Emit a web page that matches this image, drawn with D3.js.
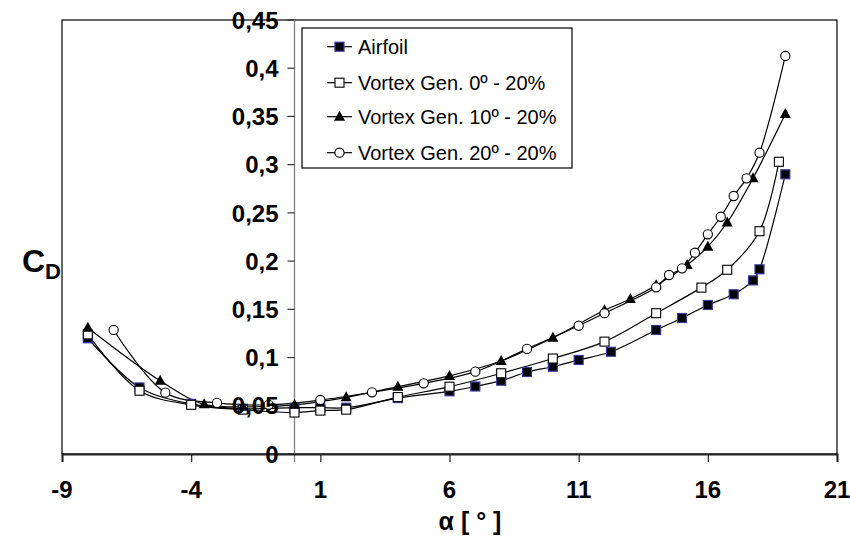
<!DOCTYPE html>
<html><head><meta charset="utf-8">
<script src="https://cdn.jsdelivr.net/npm/d3@7"></script>
<style>body{margin:0;background:#fff;} svg{display:block;}</style>
</head><body>
<svg id="chart" width="850" height="541"></svg>
<script>
// ---- data ----
const seriesNames = ["Airfoil", "Vortex Gen. 0º - 20%", "Vortex Gen. 10º - 20%", "Vortex Gen. 20º - 20%"];
const airfoilAlpha = [-8,-6,-4,-2,0,1,2,4,6,7,8,9,10,11,12.25,14,15,16,17,17.75,18,19];
const airfoilCd    = [0.120,0.069,0.052,0.047,0.048,0.048,0.048,0.058,0.065,0.070,0.076,0.085,0.0905,0.0975,0.106,0.1286,0.141,0.1545,0.1656,0.180,0.1915,0.290];
const vg0Alpha = [-8,-6,-4,-2,0,1,2,4,6,8,10,12,14,15.75,16.75,18,18.75];
const vg0Cd    = [0.124,0.0656,0.051,0.046,0.043,0.045,0.046,0.059,0.0698,0.0837,0.099,0.1165,0.146,0.1725,0.191,0.231,0.303];
const vg10Alpha = [-8,-5.2,-3.5,-2,0,2,4,6,8,10,12,13,14,15.2,16,16.75,17.75,19];
const vg10Cd    = [0.131,0.076,0.0515,0.049,0.051,0.0588,0.0698,0.081,0.0964,0.1206,0.149,0.1607,0.175,0.196,0.215,0.240,0.286,0.3526];
const vg20Alpha = [-7,-5,-3,-1,1,3,5,7,9,11,12,14,14.5,15,15.5,16,16.5,17,17.5,18,19];
const vg20Cd    = [0.1286,0.0636,0.053,0.051,0.056,0.064,0.0733,0.0854,0.109,0.133,0.146,0.1728,0.1856,0.1925,0.2087,0.2278,0.246,0.2675,0.2858,0.3124,0.4127];
const xTicks = [-9,-4,1,6,11,16,21];
const yTicks = [0,0.05,0.1,0.15,0.2,0.25,0.3,0.35,0.4,0.45];
const yTickLabels = ["0","0,05","0,1","0,15","0,2","0,25","0,3","0,35","0,4","0,45"];

const series = [
  {name: seriesNames[0], a: airfoilAlpha, c: airfoilCd, marker: "sqFilled"},
  {name: seriesNames[1], a: vg0Alpha, c: vg0Cd, marker: "sqOpen"},
  {name: seriesNames[2], a: vg10Alpha, c: vg10Cd, marker: "tri"},
  {name: seriesNames[3], a: vg20Alpha, c: vg20Cd, marker: "circle"}
];

// ---- layout ----
const L = 62, R = 837, T = 20, B = 454;
const svg = d3.select("#chart");
const x = d3.scaleLinear().domain([-9, 21]).range([L, R]);
const y = d3.scaleLinear().domain([0, 0.45]).range([B, T]);
const FONT = "'Liberation Sans', Arial, sans-serif";

// plot frame
svg.append("rect").attr("x", L).attr("y", T).attr("width", R - L).attr("height", B - T)
  .attr("fill", "none").attr("stroke", "#000").attr("stroke-width", 1.2);

// y axis at x = 0
const yAxisG = svg.append("g").attr("transform", `translate(${x(0)},0)`);
yAxisG.append("line").attr("x1", 0).attr("x2", 0).attr("y1", T).attr("y2", B + 8)
  .attr("stroke", "#808080").attr("stroke-width", 1.3);
yAxisG.selectAll("line.tk").data(yTicks).join("line").attr("class", "tk")
  .attr("x1", -7).attr("x2", 0).attr("y1", d => y(d)).attr("y2", d => y(d))
  .attr("stroke", "#333").attr("stroke-width", 1.2);

// x axis
const xAxis = d3.axisBottom(x).tickValues(xTicks).tickSize(8).tickFormat("");
const xg = svg.append("g").attr("transform", `translate(0,${B})`).call(xAxis);
xg.select(".domain").attr("stroke", "#222").attr("stroke-width", 2);
xg.selectAll(".tick line").attr("stroke", "#222").attr("stroke-width", 1.2);

// lines
const line = d3.line().x(d => x(d[0])).y(d => y(d[1])).curve(d3.curveCatmullRom.alpha(0.5));
series.forEach(s => {
  const pts = s.a.map((a, i) => [a, s.c[i]]);
  svg.append("path").datum(pts).attr("d", line).attr("fill", "none")
    .attr("stroke", "#000").attr("stroke-width", 1.2);
});

function drawMarker(g, type, cx, cy) {
  if (type === "sqFilled") {
    g.append("rect").attr("x", cx - 4.5).attr("y", cy - 4.5).attr("width", 9).attr("height", 9)
      .attr("fill", "#000").attr("stroke", "#3a3a9c").attr("stroke-width", 1.2);
  } else if (type === "sqOpen") {
    g.append("rect").attr("x", cx - 4.5).attr("y", cy - 4.5).attr("width", 9).attr("height", 9)
      .attr("fill", "#fff").attr("stroke", "#000").attr("stroke-width", 1.1);
  } else if (type === "tri") {
    g.append("path").attr("d", `M${cx},${cy - 6}L${cx + 5.5},${cy + 4}L${cx - 5.5},${cy + 4}Z`)
      .attr("fill", "#000");
  } else {
    g.append("circle").attr("cx", cx).attr("cy", cy).attr("r", 4.6)
      .attr("fill", "#fff").attr("stroke", "#000").attr("stroke-width", 1.1);
  }
}
series.forEach(s => {
  const g = svg.append("g");
  s.a.forEach((a, i) => drawMarker(g, s.marker, x(a), y(s.c[i])));
});

// y tick labels (drawn on top)
svg.append("g").selectAll("text").data(yTicks).join("text")
  .attr("x", x(0) - 16).attr("y", d => y(d)).attr("dy", "0.36em")
  .attr("text-anchor", "end").attr("font-family", FONT).attr("font-weight", "bold")
  .attr("font-size", 24).attr("fill", "#000")
  .text((d, i) => yTickLabels[i]);

// x tick labels
svg.append("g").selectAll("text").data(xTicks).join("text")
  .attr("x", d => x(d)).attr("y", 498).attr("text-anchor", "middle")
  .attr("font-family", FONT).attr("font-weight", "bold").attr("font-size", 24).attr("fill", "#000")
  .text(d => d);

// axis titles
svg.append("text").attr("x", 470).attr("y", 530).attr("text-anchor", "middle")
  .attr("font-family", FONT).attr("font-weight", "bold").attr("font-size", 25).text("α [ ° ]");
const cd = svg.append("text").attr("x", 22).attr("y", 272)
  .attr("font-family", FONT).attr("font-weight", "bold").attr("font-size", 32);
cd.append("tspan").text("C");
cd.append("tspan").attr("font-size", 22).attr("dy", 7).text("D");

// legend
const lg = svg.append("g");
lg.append("rect").attr("x", 302).attr("y", 28).attr("width", 270).attr("height", 140)
  .attr("fill", "#fff").attr("stroke", "#000").attr("stroke-width", 1.2);
const rowY = [46.7, 82.7, 116.7, 152.7];
series.forEach((s, i) => {
  lg.append("line").attr("x1", 327).attr("x2", 352).attr("y1", rowY[i]).attr("y2", rowY[i])
    .attr("stroke", "#000").attr("stroke-width", 1.2);
  drawMarker(lg, s.marker, 339.5, rowY[i]);
  lg.append("text").attr("x", 358).attr("y", rowY[i]).attr("dy", "0.36em")
    .attr("font-family", FONT).attr("font-size", 20).attr("fill", "#000").text(s.name);
});
</script>
</body></html>
